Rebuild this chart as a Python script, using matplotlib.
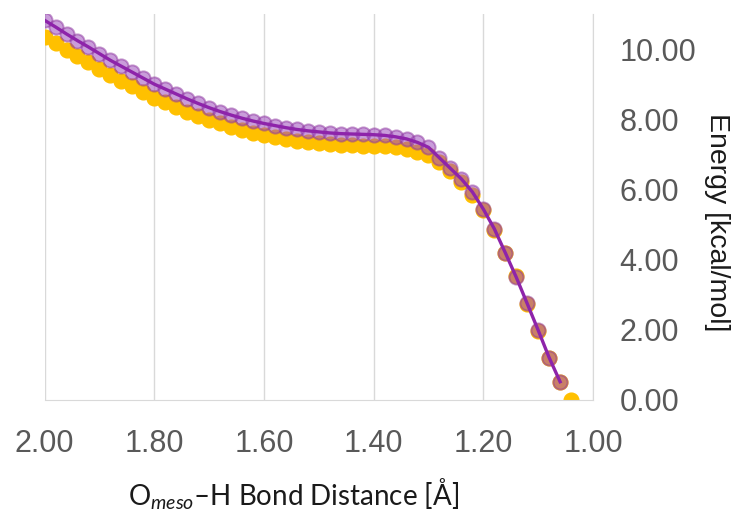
import numpy as np
import matplotlib
matplotlib.use("Agg")
import matplotlib.pyplot as plt

# O-H distance (A) and relative energy (kcal/mol)
dist_yellow = [2.00, 1.98, 1.96, 1.94, 1.92, 1.90, 1.88, 1.86, 1.84, 1.82,
               1.80, 1.78, 1.76, 1.74, 1.72, 1.70, 1.68, 1.66, 1.64, 1.62,
               1.60, 1.58, 1.56, 1.54, 1.52, 1.50, 1.48, 1.46, 1.44, 1.42,
               1.40, 1.38, 1.36, 1.34, 1.32, 1.30, 1.28, 1.26, 1.24, 1.22,
               1.20, 1.18, 1.16, 1.14, 1.12, 1.10, 1.08, 1.06, 1.04]
energy_yellow = [10.35, 10.17, 9.98, 9.80, 9.62, 9.44, 9.26, 9.10, 8.94, 8.78,
                 8.62, 8.48, 8.35, 8.22, 8.10, 7.98, 7.88, 7.78, 7.70, 7.62,
                 7.55, 7.49, 7.43, 7.39, 7.35, 7.32, 7.29, 7.27, 7.26, 7.25,
                 7.24, 7.23, 7.20, 7.15, 7.08, 6.98, 6.78, 6.52, 6.22, 5.85,
                 5.40, 4.85, 4.20, 3.52, 2.74, 1.98, 1.20, 0.52, 0.00]

dist_purple = [2.00, 1.98, 1.96, 1.94, 1.92, 1.90, 1.88, 1.86, 1.84, 1.82,
               1.80, 1.78, 1.76, 1.74, 1.72, 1.70, 1.68, 1.66, 1.64, 1.62,
               1.60, 1.58, 1.56, 1.54, 1.52, 1.50, 1.48, 1.46, 1.44, 1.42,
               1.40, 1.38, 1.36, 1.34, 1.32, 1.30, 1.28, 1.26, 1.24, 1.22,
               1.20, 1.18, 1.16, 1.14, 1.12, 1.10, 1.08, 1.06]
energy_purple = [10.82, 10.63, 10.43, 10.24, 10.06, 9.87, 9.68, 9.51, 9.34, 9.17,
                 9.00, 8.86, 8.72, 8.58, 8.45, 8.33, 8.22, 8.12, 8.03, 7.95,
                 7.88, 7.82, 7.76, 7.71, 7.67, 7.64, 7.61, 7.59, 7.58, 7.57,
                 7.56, 7.54, 7.50, 7.44, 7.34, 7.20, 6.90, 6.60, 6.30, 5.93,
                 5.44, 4.88, 4.20, 3.50, 2.75, 1.99, 1.21, 0.52]

x_ticks = [2.0, 1.8, 1.6, 1.4, 1.2, 1.0]
y_ticks = [0, 2, 4, 6, 8, 10]

plt.rcParams['font.family'] = 'Liberation Sans'
plt.rcParams['mathtext.fontset'] = 'custom'
plt.rcParams['mathtext.rm'] = 'Lato'
plt.rcParams['mathtext.it'] = 'Lato:italic'

fig = plt.figure(figsize=(7.33, 5.14), dpi=100)
ax = fig.add_axes([0.0608, 0.2218, 0.7482, 0.751])

ax.plot(dist_yellow, energy_yellow, 'o', ms=10.6, color='#FFC000', mec='#FFC000', zorder=2)
ax.plot(dist_purple, energy_purple, '-', lw=2.4, color='#8E24AA', zorder=4)
ax.plot(dist_purple, energy_purple, 'o', ms=10.2, mfc=(0.62, 0.30, 0.74, 0.55),
        mec=(0.55, 0.2, 0.62, 0.5), mew=1.4, ls='none', zorder=3)

ax.set_xlim(2.0, 1.0)
ax.set_ylim(0, 11)
ax.set_xticks(x_ticks)
ax.set_yticks(y_ticks)
ax.set_xticklabels(['%.2f' % v for v in x_ticks])
ax.set_yticklabels(['%.2f' % v for v in y_ticks])
ax.xaxis.grid(True, color='#D9D9D9', lw=1)
ax.set_axisbelow(True)

ax.yaxis.tick_right()
ax.tick_params(axis='both', length=0, labelsize=22, labelcolor='#595959')
ax.tick_params(axis='x', pad=21)
ax.tick_params(axis='y', pad=19)

for s in ['top', 'left']:
    ax.spines[s].set_visible(False)
ax.spines['bottom'].set_color('#D9D9D9')
ax.spines['right'].set_color('#D9D9D9')

fig.text(0.401, 0.039, r'O$_{\mathit{meso}}$–H Bond Distance [Å]', ha='center', va='center',
         fontsize=20, family='Lato', color='#1a1a1a')
fig.text(0.978, 0.568, 'Energy [kcal/mol]', rotation=270, ha='center', va='center',
         fontsize=20.5, color='#1a1a1a')

fig.savefig('out.png', dpi=100)
